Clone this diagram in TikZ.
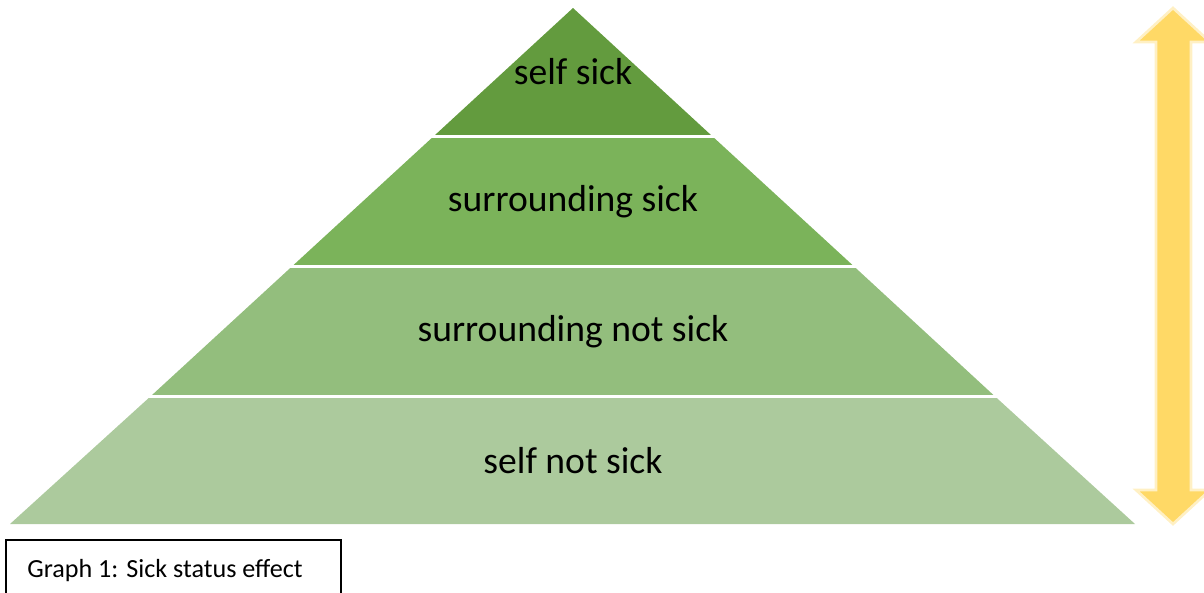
\documentclass[tikz,border=0pt]{standalone}
\usepackage{fontspec}
\setmainfont{Carlito}
\definecolor{lvlA}{HTML}{639B3E}
\definecolor{lvlB}{HTML}{7BB35A}
\definecolor{lvlC}{HTML}{93BE7D}
\definecolor{lvlD}{HTML}{ACCA9D}
\definecolor{arrowfill}{HTML}{FFD966}
\definecolor{arrowglow}{HTML}{FFF0C4}
\begin{document}
\begin{tikzpicture}[x=0.75pt,y=-0.75pt,
  layertext/.style={font=\fontsize{28.2}{32}\selectfont, text=black, inner sep=0pt},
  captiontext/.style={font=\fontsize{19.6}{23}\selectfont, text=black, inner sep=0pt, anchor=base west},
  separator/.style={white, line width=2.4pt}]
\useasboundingbox (0,0) rectangle (1204,593);
\clip (0,0) rectangle (1204,593);

% pyramid levels (apex at 573,8; base from 10 to 1135 at y=524)
\fill[lvlA] (573,8) -- (711.5,135.5) -- (434.5,135.5) -- cycle;
\fill[lvlB] (434.5,135.5) -- (711.5,135.5) -- (853,265.5) -- (293,265.5) -- cycle;
\fill[lvlC] (293,265.5) -- (853,265.5) -- (994,395.5) -- (151.5,395.5) -- cycle;
\fill[lvlD] (151.5,395.5) -- (994,395.5) -- (1135,524) -- (10,524) -- cycle;

% white gaps between levels
\coordinate (s1l) at (420,136.5); \coordinate (s1r) at (730,136.5);
\coordinate (s2l) at (280,266.5); \coordinate (s2r) at (870,266.5);
\coordinate (s3l) at (140,396.5); \coordinate (s3r) at (1010,396.5);
\draw[separator] (s1l) -- (s1r);
\draw[separator] (s2l) -- (s2r);
\draw[separator] (s3l) -- (s3r);

% level labels
\node[layertext] (selfsick) at (573,72) {self sick};
\node[layertext] (survsick) at (573,202) {surrounding sick};
\node[layertext] (survnot) at (573,332) {surrounding not sick};
\node[layertext] (selfnot) at (573,461) {self not sick};

% double-headed arrow on the right
\draw[arrowglow, line width=2pt, fill=arrowfill, line join=miter]
  (1173,8) -- (1210,42) -- (1191,42) -- (1191,490) -- (1210,490)
  -- (1173,524) -- (1136,490) -- (1156,490) -- (1156,42) -- (1136,42) -- cycle;

% caption box
\draw[black, line width=1.5pt] (5.5,540) rectangle (340.5,610);
\node[captiontext] (caption) at (27,577) {Graph 1: Sick status effect};
\end{tikzpicture}
\end{document}
